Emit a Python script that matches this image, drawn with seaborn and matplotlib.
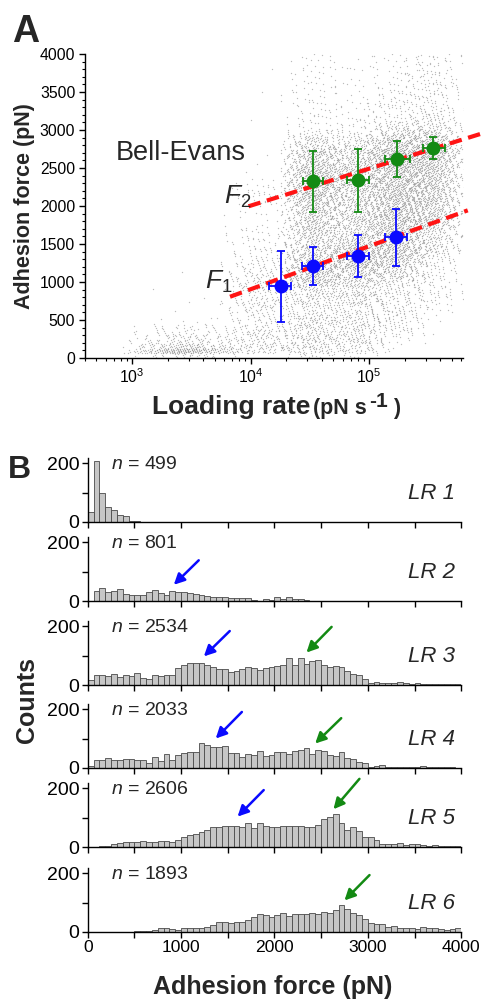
import numpy as np
import pandas as pd
import matplotlib
matplotlib.use("Agg")
import matplotlib.pyplot as plt
import seaborn as sns
from matplotlib.ticker import MultipleLocator, LogLocator, NullFormatter, FixedLocator

# ---------------- panel A: Bell-Evans mean forces ----------------
f1_rate = [1.79e4, 3.38e4, 8.07e4, 1.70e5]
f1_rate_lo = [1.44e4, 2.74e4, 6.46e4, 1.36e5]
f1_rate_hi = [2.18e4, 4.10e4, 9.97e4, 2.10e5]
f1_force = [952, 1207, 1344, 1590]
f1_force_lo = [480, 956, 1062, 1216]
f1_force_hi = [1410, 1454, 1621, 1960]

f2_rate = [3.36e4, 8.07e4, 1.73e5, 3.46e5]
f2_rate_lo = [2.75e4, 6.46e4, 1.36e5, 2.85e5]
f2_rate_hi = [4.10e4, 1.00e5, 2.20e5, 4.34e5]
f2_force = [2326, 2344, 2617, 2762]
f2_force_lo = [1925, 1925, 2379, 2612]
f2_force_hi = [2718, 2744, 2855, 2907]

# Bell-Evans fit lines (end points)
fit1_rate = [6.7e3, 6.8e5]
fit1_force = [806, 1943]
fit2_rate = [9.6e3, 9.2e5]
fit2_force = [1996, 2960]

# ---------------- panel B: force histograms, 62.5 pN bins ----------------
bin_width = 62.5
bin_edges = np.arange(0, 4000 + bin_width, bin_width)

lr1_counts = [34, 206, 99, 50, 42, 23, 22, 5, 2, 1, 0, 1, 1, 0, 1, 1,
              0, 0, 1, 0, 0, 0, 0, 0, 0, 0, 0, 0, 0, 0, 0, 0,
              0, 0, 0, 0, 0, 0, 0, 0, 0, 0, 0, 0, 0, 0, 0, 0,
              0, 0, 0, 0, 0, 0, 0, 0, 0, 0, 0, 0, 0, 0, 0, 0]
lr2_counts = [0, 34, 45, 31, 33, 40, 25, 21, 21, 21, 29, 36, 28, 21, 34, 32,
              30, 27, 25, 22, 17, 15, 13, 12, 11, 10, 9, 10, 2, 1, 7, 2,
              12, 7, 15, 8, 8, 3, 1, 1, 1, 0, 1, 1, 0, 0, 1, 0,
              0, 0, 1, 0, 0, 0, 0, 1, 0, 0, 0, 0, 1, 0, 0, 0]
lr3_counts = [17, 35, 34, 32, 38, 27, 33, 32, 40, 24, 20, 33, 32, 34, 35, 59,
              69, 76, 73, 76, 69, 62, 53, 53, 45, 49, 55, 62, 58, 51, 59, 62,
              63, 69, 93, 69, 93, 71, 80, 84, 67, 62, 64, 62, 46, 37, 34, 20,
              6, 9, 8, 7, 7, 9, 6, 5, 6, 5, 5, 4, 5, 5, 4, 5]
lr4_counts = [6, 27, 27, 33, 27, 28, 30, 30, 28, 28, 17, 38, 25, 49, 28, 44,
              51, 53, 53, 85, 78, 71, 71, 75, 51, 51, 37, 46, 45, 58, 42, 44,
              53, 53, 46, 56, 60, 67, 46, 62, 56, 44, 42, 54, 33, 30, 22, 17,
              5, 8, 10, 3, 3, 5, 3, 3, 2, 6, 2, 2, 3, 3, 2, 1]
lr5_counts = [0, 1, 2, 5, 9, 14, 17, 18, 17, 20, 18, 16, 20, 20, 16, 25,
              34, 40, 44, 52, 58, 69, 69, 72, 72, 72, 69, 80, 66, 80, 72, 69,
              69, 72, 72, 72, 72, 69, 69, 76, 95, 103, 111, 82, 58, 69, 54, 34,
              34, 23, 9, 11, 10, 14, 8, 11, 9, 6, 5, 6, 5, 5, 4, 5]
lr6_counts = [0, 0, 0, 1, 0, 1, 0, 1, 3, 4, 5, 8, 12, 14, 10, 8,
              15, 14, 12, 12, 17, 23, 33, 35, 31, 35, 35, 42, 52, 61, 57, 51,
              57, 64, 55, 61, 61, 61, 64, 62, 69, 64, 76, 92, 79, 64, 59, 44,
              32, 26, 26, 17, 19, 12, 12, 14, 10, 17, 12, 12, 10, 8, 10, 12]

hist_counts = [lr1_counts, lr2_counts, lr3_counts, lr4_counts, lr5_counts, lr6_counts]
lr_names = ["LR 1", "LR 2", "LR 3", "LR 4", "LR 5", "LR 6"]
lr_n = [499, 801, 2534, 2033, 2606, 1893]
# loading-rate group of each histogram (log10 pN/s): centre and half width
lr_log_rate = [3.45, 4.10, 4.53, 4.90, 5.23, 5.54]
lr_log_spread = [0.55, 0.40, 0.30, 0.30, 0.30, 0.30]

# arrows marking the two force peaks: (tail x, tail y, tip x, tip y)
blue_arrows = {1: (1189, 138, 922, 55), 2: (1521, 183, 1244, 97),
               3: (1651, 190, 1371, 100), 4: (1885, 193, 1605, 103)}
green_arrows = {2: (2612, 197, 2343, 110), 3: (2715, 169, 2436, 83),
                4: (2910, 231, 2632, 128), 5: (3018, 193, 2750, 107)}


def build_cloud():
    """Spread the histogram counts of every LR group over its loading-rate band
    (deterministic R3 low-discrepancy placement inside each histogram bin)."""
    a1, a2, a3 = 0.8191725134, 0.6710436067, 0.5497004779
    rows = []
    n = 0
    for g, counts in enumerate(hist_counts):
        for i, c in enumerate(counts):
            for j in range(c):
                n += 1
                f = bin_edges[i] + ((0.5 + n * a1) % 1.0) * bin_width
                u = ((0.5 + n * a2) % 1.0) + ((0.5 + n * a3) % 1.0) - 1.0
                rows.append((10 ** (lr_log_rate[g] + lr_log_spread[g] * u), f))
    return pd.DataFrame(rows, columns=["rate", "force"])


W, H = 484, 999


def fx(px):
    return px / W


def fy(py):
    return 1 - py / H


sns.set_theme(style="ticks")
plt.rcParams["font.family"] = ["Liberation Sans", "DejaVu Sans"]
plt.rcParams["mathtext.fontset"] = "custom"
plt.rcParams["mathtext.rm"] = "Liberation Sans"
plt.rcParams["mathtext.it"] = "Liberation Sans:italic"
plt.rcParams["mathtext.bf"] = "Liberation Sans:bold"
plt.rcParams["axes.linewidth"] = 1.0
plt.rcParams["axes.edgecolor"] = "black"
plt.rcParams["xtick.color"] = "black"
plt.rcParams["ytick.color"] = "black"

fig = plt.figure(figsize=(W / 100, H / 100), dpi=100)

# ---------------- panel A ----------------
axA = fig.add_axes([fx(85), fy(358), fx(463) - fx(85), fy(54) - fy(358)])
cloud = build_cloud()
sns.scatterplot(data=cloud, x="rate", y="force", ax=axA, s=0.9, color="#909090",
                linewidth=0, alpha=0.6, legend=False, rasterized=True)
axA.set_xscale("log")

axA.plot(fit1_rate, fit1_force, color="#ff1414", lw=3, dashes=(3, 1.6), clip_on=False, zorder=4)
axA.plot(fit2_rate, fit2_force, color="#ff1414", lw=3, dashes=(3, 1.6), clip_on=False, zorder=4)

for rate, lo, hi, force, flo, fhi, col in [
        (f1_rate, f1_rate_lo, f1_rate_hi, f1_force, f1_force_lo, f1_force_hi, "#0a0aff"),
        (f2_rate, f2_rate_lo, f2_rate_hi, f2_force, f2_force_lo, f2_force_hi, "#138a13")]:
    xerr = [np.subtract(rate, lo), np.subtract(hi, rate)]
    yerr = [np.subtract(force, flo), np.subtract(fhi, force)]
    axA.errorbar(rate, force, xerr=xerr, yerr=yerr, fmt="o", color=col, ms=9,
                 capsize=3, elinewidth=1.3, capthick=1.3, zorder=5)

axA.set_xlim(400, 6.2e5)
axA.set_ylim(0, 4000)
axA.yaxis.set_major_locator(MultipleLocator(500))
axA.yaxis.set_minor_locator(MultipleLocator(100))
axA.xaxis.set_major_locator(LogLocator(base=10))
axA.xaxis.set_minor_locator(LogLocator(base=10, subs=np.arange(2, 10)))
axA.xaxis.set_minor_formatter(NullFormatter())
axA.tick_params(which="major", length=4, width=1, labelsize=11.3, pad=3)
axA.tick_params(which="minor", length=2.2, width=0.8)
axA.set_xlabel("")
axA.set_ylabel("")
sns.despine(ax=axA)

fig.text(fx(116), fy(153), "Bell-Evans", fontsize=19.5, ha="left", va="center")
fig.text(fx(251), fy(204), r"$F_{\mathit{2}}$", fontsize=19, ha="right", va="baseline")
fig.text(fx(232), fy(289), r"$F_{\mathit{1}}$", fontsize=19, ha="right", va="baseline")

fig.text(fx(12), fy(42), "A", fontsize=27, weight="bold", va="baseline")
fig.text(fx(25), fy(206), "Adhesion force (pN)", rotation=90, fontsize=15.5,
         weight="bold", ha="center", va="center")
fig.text(fx(310), fy(414), "Loading rate", fontsize=19, weight="bold",
         ha="right", va="baseline")
fig.text(fx(313), fy(414), "(pN s", fontsize=15.5, weight="bold", ha="left", va="baseline")
fig.text(fx(369), fy(407), "-1", fontsize=15, weight="bold", ha="left", va="baseline")
fig.text(fx(393), fy(414), ")", fontsize=15.5, weight="bold", ha="left", va="baseline")

# ---------------- panel B ----------------
baselines = [522, 601, 685, 768, 847, 932]
centers = bin_edges[:-1] + bin_width / 2
for k, (counts, base) in enumerate(zip(hist_counts, baselines)):
    ax = fig.add_axes([fx(87.7), fy(base), fx(461.2) - fx(87.7), 64 / H])
    hist_df = pd.DataFrame({"force": centers, "count": counts})
    sns.histplot(data=hist_df, x="force", weights="count", bins=list(bin_edges), ax=ax,
                 color="#c6c6c6", edgecolor="#4a4a4a", linewidth=0.6, alpha=1)
    ax.set_xlim(0, 4000)
    ax.set_ylim(0, 217)
    ax.yaxis.set_major_locator(FixedLocator([0, 200]))
    ax.yaxis.set_minor_locator(FixedLocator([100]))
    ax.xaxis.set_major_locator(MultipleLocator(1000))
    ax.xaxis.set_minor_locator(MultipleLocator(500))
    ax.tick_params(which="both", length=4, width=1, labelsize=14, pad=2)
    ax.tick_params(axis="x", labelsize=12.6)
    if k < 5:
        ax.tick_params(axis="x", labelbottom=False)
    ax.set_xlabel("")
    ax.set_ylabel("")
    sns.despine(ax=ax)
    ax.text(250, 195, r"$n$ = %d" % lr_n[k], fontsize=14, va="center", ha="left")
    ax.text(3930, 95, lr_names[k], fontsize=16, style="italic", va="center", ha="right")
    if k in blue_arrows:
        tx, ty, hx, hy = blue_arrows[k]
        ax.annotate("", xy=(hx, hy), xytext=(tx, ty), annotation_clip=False,
                    arrowprops=dict(arrowstyle="-|>", color="#0a0aff", lw=1.8,
                                    mutation_scale=16, shrinkA=0, shrinkB=0))
    if k in green_arrows:
        tx, ty, hx, hy = green_arrows[k]
        ax.annotate("", xy=(hx, hy), xytext=(tx, ty), annotation_clip=False,
                    arrowprops=dict(arrowstyle="-|>", color="#138a13", lw=1.8,
                                    mutation_scale=16, shrinkA=0, shrinkB=0))

fig.text(fx(8), fy(478), "B", fontsize=23, weight="bold", va="baseline")
fig.text(fx(27), fy(700), "Counts", rotation=90, fontsize=18, weight="bold",
         ha="center", va="center")
fig.text(fx(273), fy(987), "Adhesion force (pN)", fontsize=18, weight="bold",
         ha="center", va="center")

fig.savefig("out.png", dpi=100)
